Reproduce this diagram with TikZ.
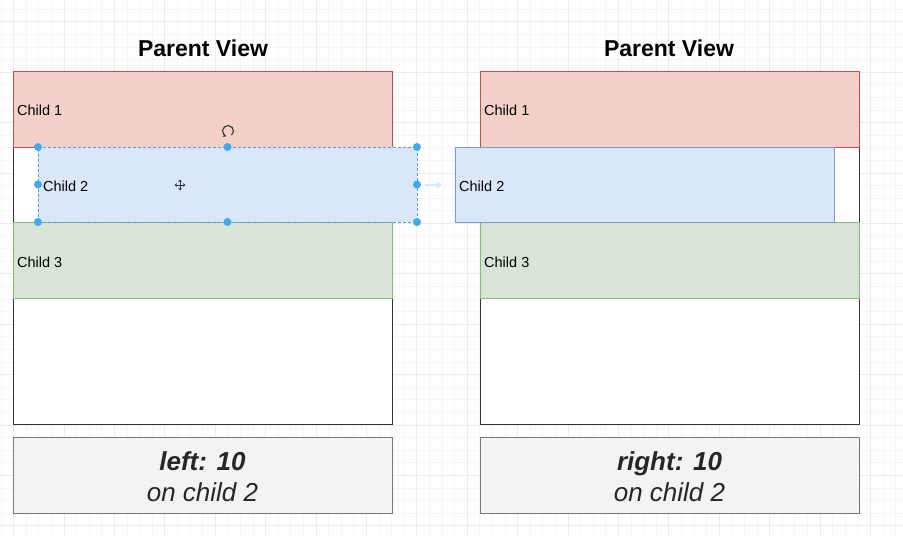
\documentclass[tikz,border=0pt]{standalone}
\usepackage{fontspec}
\setmainfont{Liberation Sans}
\usetikzlibrary{arrows.meta,calc}
\definecolor{redfill}{HTML}{F5D0C8}
\definecolor{redline}{HTML}{B85450}
\definecolor{greenfill}{HTML}{D8E5D6}
\definecolor{greenline}{HTML}{8AB878}
\definecolor{bluefill}{HTML}{DAE7FB}
\definecolor{blueline}{HTML}{7B9CCB}
\definecolor{selline}{HTML}{5A9BE0}
\definecolor{handle}{HTML}{3FAAF2}
\definecolor{greyfill}{HTML}{F3F3F3}
\definecolor{greyline}{HTML}{777777}
\definecolor{gridminor}{HTML}{F6F6F6}
\definecolor{gridmajor}{HTML}{ECECEC}
\tikzset{
  boxbase/.style={rectangle, anchor=north west, inner sep=0pt, outer sep=0pt, line width=1pt},
  parentbox/.style={boxbase, draw=black!80, fill=white, minimum width=379pt, minimum height=353pt},
  redbox/.style={boxbase, draw=redline, fill=redfill, minimum width=379pt, minimum height=76pt},
  greenbox/.style={boxbase, draw=greenline, fill=greenfill, minimum width=379pt, minimum height=76pt},
  bluebox/.style={boxbase, draw=blueline, fill=bluefill, minimum width=379pt, minimum height=75pt},
  selbox/.style={boxbase, draw=selline, densely dashed, line width=0.9pt, fill=bluefill, minimum width=379pt, minimum height=75pt},
  notebox/.style={boxbase, draw=greyline, fill=greyfill, minimum width=379pt, minimum height=76pt},
  childtext/.style={anchor=west, font=\fontsize{14.5}{16}\selectfont, inner sep=0pt},
  titletext/.style={font=\fontsize{23}{26}\selectfont\bfseries, inner sep=0pt},
  notetext/.style={anchor=base, font=\fontsize{26}{30}\selectfont\itshape, text=black!85, inner sep=0pt},
  noteboldtext/.style={notetext, font=\fontsize{26}{30}\selectfont\bfseries\itshape},
  hdl/.style={circle, fill=handle, inner sep=0pt, minimum size=8pt},
}
\begin{document}
\begin{tikzpicture}[x=1pt, y=-1pt]
\useasboundingbox (0,0) rectangle (903,536);
\fill[white] (0,0) rectangle (903,536);
% grid
\foreach \k in {-1,...,71} {
  \draw[gridminor, line width=0.6pt] ({13.5+12.6*\k},0) -- ({13.5+12.6*\k},536);
}
\foreach \k in {-2,...,42} {
  \draw[gridminor, line width=0.6pt] (0,{21.7+12.6*\k}) -- (903,{21.7+12.6*\k});
}
\foreach \k in {0,...,17} {
  \draw[gridmajor, line width=0.8pt] ({13.5+50.4*\k},0) -- ({13.5+50.4*\k},536);
}
\foreach \k in {0,...,10} {
  \draw[gridmajor, line width=0.8pt] (0,{21.7+50.4*\k}) -- (903,{21.7+50.4*\k});
}

% titles
\node[titletext] (t1) at (203,48) {Parent View};
\node[titletext] (t2) at (669,48) {Parent View};

% left parent
\node[parentbox] (p1) at (13,71) {};
\node[redbox] (c11) at (13,71) {};
\node[greenbox] (c13) at (13,222) {};
\node[selbox] (c12) at (38,147) {};
\node[childtext] (l11) at (17,110) {Child 1};
\node[childtext] (l12) at (43,186) {Child 2};
\node[childtext] (l13) at (17,262) {Child 3};

% selection handles
\foreach \p/\n in {north west/a, north/b, north east/c, west/d, east/e, south west/f, south/g, south east/h} {
  \node[hdl] (h\n) at (c12.\p) {};
}
% rotation icon
\coordinate (rot) at (228,131);
\draw[black!75, line width=1.2pt, -{Stealth[length=3pt,width=4pt]}] ($(rot)+(50:5.5)$) arc[start angle=50, end angle=-250, radius=5.5];
% move icon
\coordinate (mv) at (180,185);
\draw[black!80, line width=1pt, {Stealth[length=2.5pt,width=3.5pt]}-{Stealth[length=2.5pt,width=3.5pt]}] ($(mv)+(-5.5,0)$) -- ($(mv)+(5.5,0)$);
\draw[black!80, line width=1pt, {Stealth[length=2.5pt,width=3.5pt]}-{Stealth[length=2.5pt,width=3.5pt]}] ($(mv)+(0,-5.5)$) -- ($(mv)+(0,5.5)$);
% faint arrow
\coordinate (fa) at (425,185);
\coordinate (fb) at (442,185);
\draw[handle!25, line width=2pt, -{Triangle[length=5pt,width=7pt]}] (fa) -- (fb);

% right parent
\node[parentbox] (p2) at (480,71) {};
\node[redbox] (c21) at (480,71) {};
\node[greenbox] (c23) at (480,222) {};
\node[bluebox] (c22) at (455,147) {};
\node[childtext] (l21) at (484,110) {Child 1};
\node[childtext] (l22) at (459,186) {Child 2};
\node[childtext] (l23) at (484,262) {Child 3};

% notes
\node[notebox] (n1) at (13,437) {};
\node[notebox] (n2) at (480,437) {};
\node[noteboldtext] (nt1a) at (n1.center |- 0,470) {left: 10};
\node[notetext] (nt1b) at (n1.center |- 0,501) {on child 2};
\node[noteboldtext] (nt2a) at (n2.center |- 0,470) {right: 10};
\node[notetext] (nt2b) at (n2.center |- 0,501) {on child 2};
\end{tikzpicture}
\end{document}
